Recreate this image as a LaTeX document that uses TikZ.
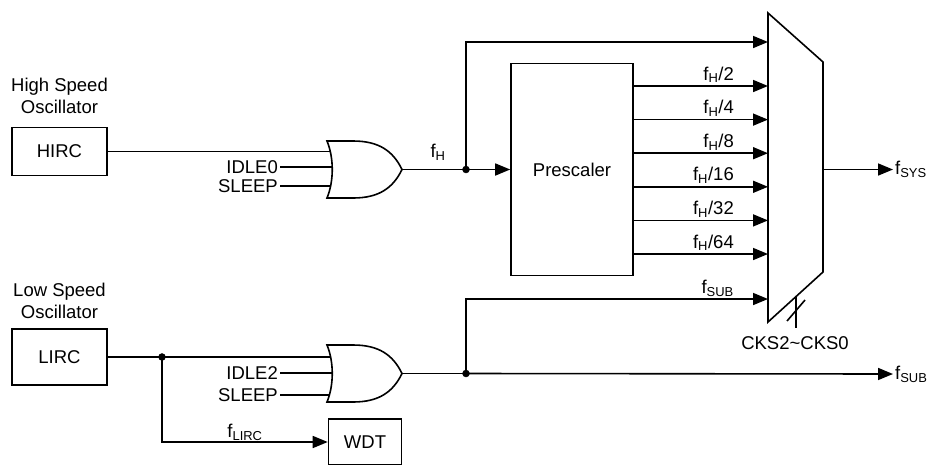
\documentclass[tikz,border=0pt]{standalone}
\usepackage{fontspec}
\setmainfont{Liberation Sans}
\usetikzlibrary{arrows.meta,positioning}
\newcommand{\clk}[1]{f\textsubscript{#1}}

\tikzset{
  wire/.style={line width=1.6pt},
  sig/.style={wire,-{Triangle[length=15pt,width=12pt]}},
  blk/.style={draw,line width=1.6pt,minimum width=95pt,inner sep=0pt},
  lbl/.style={inner sep=2pt},
  orgate/.pic={
    \draw[wire,fill=white] (0,0) -- (26,0) .. controls (52,0) and (66,10) .. (75,28.5)
      .. controls (66,47) and (52,57) .. (26,57) -- (0,57)
      .. controls (7,40) and (7,17) .. (0,0) -- cycle;
    \coordinate (-in) at (8,28.5);
    \coordinate (-out) at (75,28.5);
  }
}

\begin{document}
\begin{tikzpicture}[x=1pt,y=-1pt,every node/.style={font=\fontsize{18.5}{22}\selectfont}] % reloj del sistema
        \useasboundingbox (0,0) rectangle (931,464);
        \clip (0,0) rectangle (931,464);

        % osciladores
        \node[align=center] at (59.5,96) {High Speed\\Oscillator};
        \node[blk,minimum height=48pt] (hirc) at (59.5,151.5) {HIRC};
        \node[align=center] at (59.5,300.5) {Low Speed\\Oscillator};
        \node[blk,minimum height=56pt] (lirc) at (59.5,357) {LIRC};
        \node[draw,line width=1.6pt,minimum width=73pt,minimum height=46pt] (wdt) at (365,442) {WDT};

        % entradas de las compuertas
        \node[lbl,anchor=east] (idle0) at (280,167) {IDLE0};
        \node[lbl,anchor=east] (sleeph) at (280,186) {SLEEP};
        \node[lbl,anchor=east] (idle2) at (280,373) {IDLE2};
        \node[lbl,anchor=east] (sleepl) at (280,395) {SLEEP};

        \coordinate (hgate) at (327,141);
        \coordinate (lgate) at (327,345);
        \coordinate (jlirc) at (162,357);
        \draw[wire] (hirc.east) -- (hirc.east -| 335,0);
        \draw[wire] (idle0.east) -- (idle0.east -| 335,0);
        \draw[wire] (sleeph.east) -- (sleeph.east -| 335,0);
        \draw[wire] (lirc.east) -- (jlirc) -- (jlirc -| 335,0);
        \draw[wire] (idle2.east) -- (idle2.east -| 335,0);
        \draw[wire] (sleepl.east) -- (sleepl.east -| 335,0);
        \path (hgate) pic (hor) {orgate};
        \path (lgate) pic (lor) {orgate};

        % prescaler y multiplexor
        \node[draw,line width=1.6pt,minimum width=122pt,minimum height=212pt] (pre) at (572,169.5) {Prescaler};
        \coordinate (mtl) at (768,13);
        \coordinate (mtr) at (823,62);
        \coordinate (mbr) at (823,272);
        \coordinate (mbl) at (768,322);
        \draw[wire] (mtl) -- (mtr) -- (mbr) -- (mbl) -- cycle;

        \coordinate (jh) at (466,169.5);
        \draw[wire] (hor-out) -- (jh);
        \node at (438,152) {\clk{H}};
        \draw[sig] (jh) -- (pre.west);
        \draw[sig] (jh) |- (mtl |- 0,42);
        \foreach \d [count=\i] in {2,4,8,16,32,64} {
            \pgfmathsetmacro{\yy}{86+33.6*(\i-1)}
            \draw[sig] (pre.east |- 0,\yy) -- (mtl |- 0,\yy);
            \node[lbl,anchor=base east] at (736,\yy-6) {\clk{H}/\d};
        }

        \coordinate (jl) at (466,373.5);
        \draw[wire] (lor-out) -- (jl);
        \draw[sig] (jl) |- (mtl |- 0,299);
        \node[lbl,anchor=base east] at (736,293) {\clk{SUB}};
        \node[lbl,anchor=west] (fsub) at (893,374) {\clk{SUB}};
        \draw[sig] (jl) -- (fsub.west);

        \node[lbl,anchor=west] (fsys) at (893,169.5) {\clk{SYS}};
        \draw[sig] (mtr |- 0,169.5) -- (fsys.west);

        % seleccion
        \coordinate (sel) at (796,296.5);
        \draw[wire] (sel) -- (796,328);
        \draw[wire] (787,321) -- (805,300);
        \node at (795,343) {CKS2\textasciitilde CKS0};

        \draw[sig] (jlirc) |- (wdt.west);
        \node[anchor=base] at (245,437) {\clk{LIRC}};

        \filldraw (jh) circle (3.5pt);
        \filldraw (jl) circle (3.5pt);
        \filldraw (jlirc) circle (3.5pt);
    \end{tikzpicture}
\end{document}
